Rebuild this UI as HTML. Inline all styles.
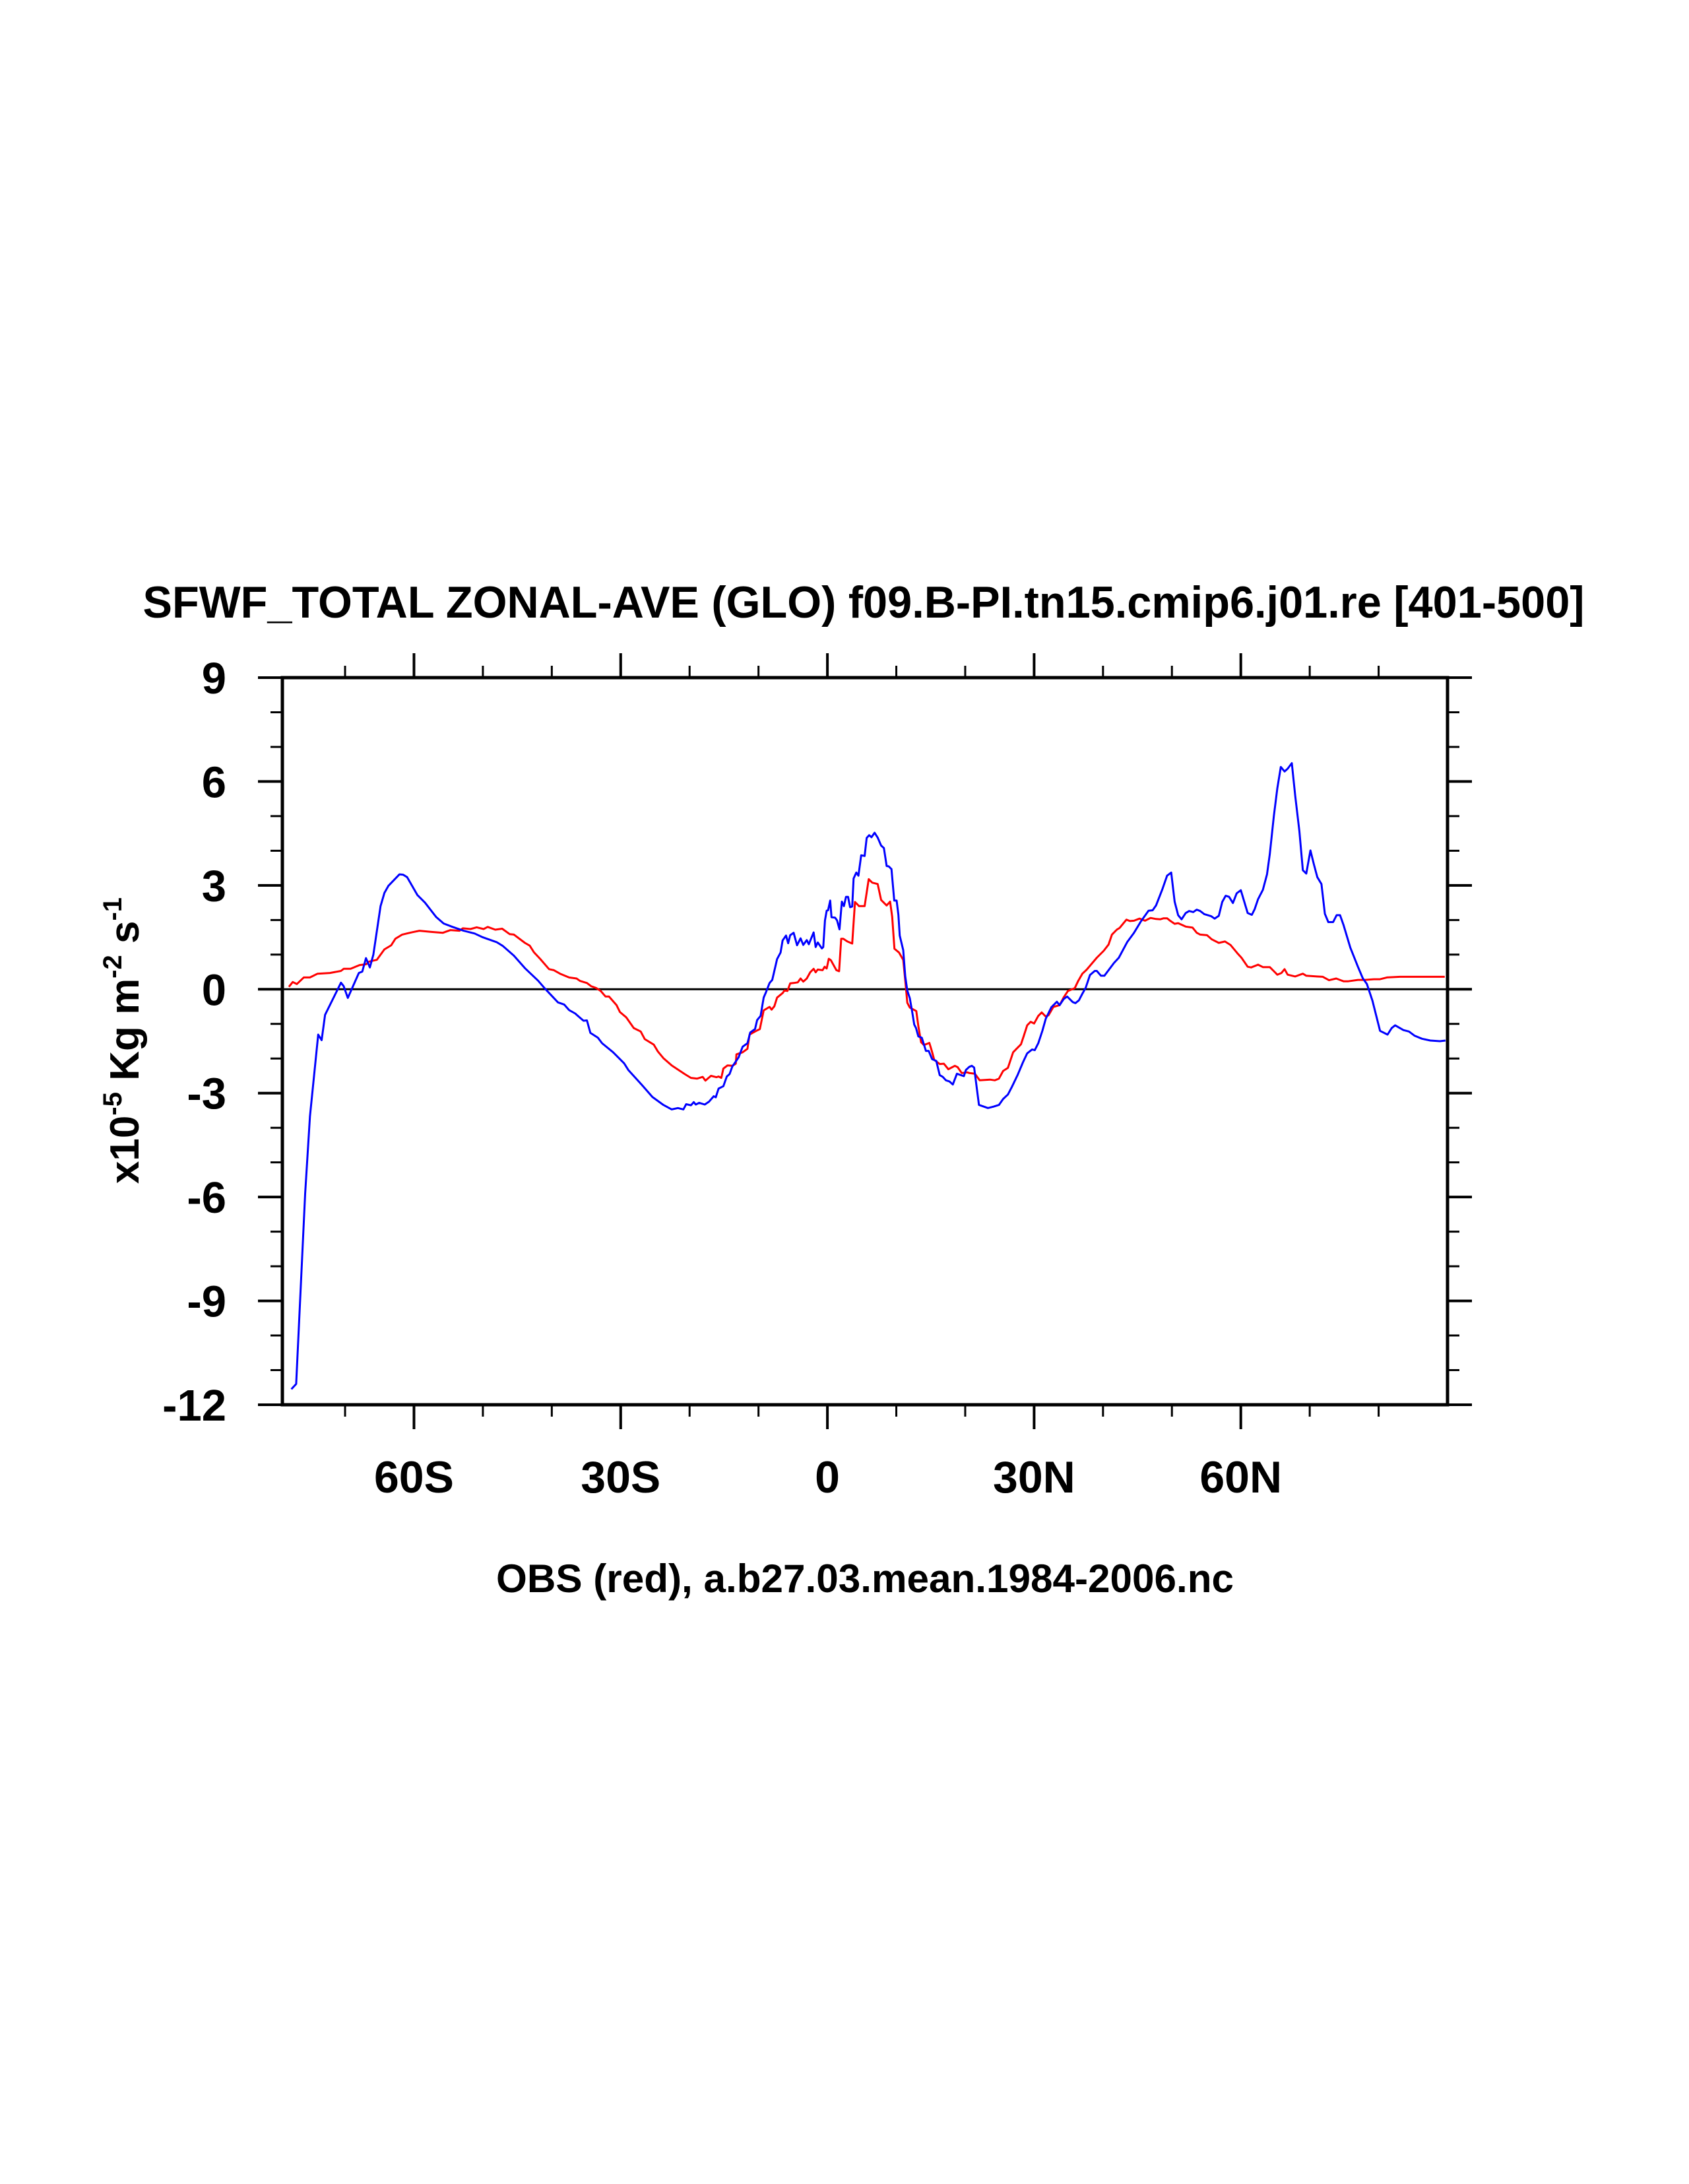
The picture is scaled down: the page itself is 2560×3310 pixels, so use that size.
<!DOCTYPE html>
<html><head><meta charset="utf-8"><title>SFWF_TOTAL zonal average</title>
<style>html,body{margin:0;padding:0;background:#fff}svg{display:block}text{font-family:"Liberation Sans",Arial,sans-serif;font-weight:bold;fill:#000}</style>
</head><body>
<svg id="chart" width="2560" height="3310" viewBox="0 0 2560 3310" xmlns="http://www.w3.org/2000/svg">
<rect x="0" y="0" width="2560" height="3310" fill="#fff"/>
<text x="1309" y="936" font-size="68" text-anchor="middle" textLength="2185" lengthAdjust="spacingAndGlyphs">SFWF_TOTAL ZONAL-AVE (GLO) f09.B-PI.tn15.cmip6.j01.re [401-500]</text>
<text x="1311" y="2413" font-size="60" text-anchor="middle" textLength="1118" lengthAdjust="spacingAndGlyphs">OBS (red), a.b27.03.mean.1984-2006.nc</text>
<text transform="translate(210,1577) rotate(-90)" font-size="62" text-anchor="middle">x10<tspan font-size="40" dy="-26">-5</tspan><tspan dy="26"> Kg m</tspan><tspan font-size="40" dy="-26">-2</tspan><tspan dy="26"> s</tspan><tspan font-size="40" dy="-26">-1</tspan></text>
<g id="plot"></g>
</svg>
<script>
const blueLat=[-77.8,-77.1,-75.8,-75.1,-73.9,-73.4,-72.9,-70.6,-70.2,-69.6,-68.0,-67.5,-66.97,-66.4,-65.9,-64.85,-64.3,-63.7,-62.1,-61.6,-61.0,-59.5,-58.4,-56.8,-55.7,-54.4,-52.8,-51.2,-50.0,-48.0,-47.1,-45.5,-43.9,-42.0,-41.0,-39.1,-38.2,-37.5,-36.6,-36.2,-35.4,-34.9,-34.4,-33.3,-32.7,-31.1,-29.5,-28.9,-26.9,-25.4,-23.8,-22.6,-21.7,-20.9,-20.5,-19.8,-19.4,-19.1,-18.6,-17.8,-17.2,-16.5,-16.2,-15.8,-15.1,-14.6,-14.2,-13.8,-12.9,-12.3,-11.6,-11.2,-10.5,-10.2,-9.7,-9.25,-8.9,-8.4,-8.0,-7.3,-6.8,-6.5,-6.0,-5.7,-5.4,-4.9,-4.4,-3.9,-3.5,-3.0,-2.7,-2.0,-1.7,-1.4,-0.8,-0.6,-0.35,-0.1,0.1,0.4,0.6,1.1,1.4,1.75,2.1,2.4,2.7,3.0,3.3,3.6,3.8,4.2,4.5,4.9,5.4,5.7,6.06,6.4,6.85,7.3,7.8,8.2,8.6,8.9,9.3,9.7,10.05,10.3,10.5,11.0,11.3,11.6,11.96,12.3,12.6,12.86,13.2,13.7,14.3,14.7,15.2,15.8,16.3,16.75,17.2,17.7,18.2,18.8,19.8,20.1,20.6,20.96,21.3,22.0,23.3,24.1,24.9,25.5,26.2,26.8,27.6,28.4,29.0,29.7,30.1,30.6,31.2,31.7,32.5,33.3,33.7,34.3,34.8,35.6,36.0,36.5,37.0,37.5,38.1,38.8,39.1,39.7,40.2,41.6,42.3,43.5,44.5,45.5,46.6,47.2,47.7,48.6,49.3,49.9,50.4,50.9,51.4,52.0,52.5,53.1,53.6,54.1,54.7,55.7,56.2,56.8,57.3,57.8,58.3,58.85,59.4,60.0,61.0,61.6,62.0,62.5,63.2,63.8,64.2,64.8,65.3,65.8,66.35,66.8,67.4,67.9,68.5,69.0,69.5,70.1,70.6,71.1,71.7,72.2,72.7,73.4,73.9,74.4,74.9,75.9,77.0,77.7,78.3,79.1,80.2,81.3,81.9,82.4,83.6,84.4,85.2,86.3,87.5,88.9,89.7];
const blueVal=[-11.55,-11.4,-5.91,-3.67,-1.31,-1.47,-0.74,0.19,0.09,-0.25,0.47,0.51,0.9,0.63,1.0,2.4,2.78,2.99,3.32,3.31,3.24,2.72,2.5,2.09,1.9,1.8,1.69,1.61,1.5,1.36,1.25,0.97,0.61,0.25,0.02,-0.38,-0.44,-0.6,-0.7,-0.77,-0.91,-0.9,-1.26,-1.4,-1.56,-1.82,-2.14,-2.33,-2.77,-3.11,-3.34,-3.47,-3.43,-3.47,-3.32,-3.35,-3.26,-3.33,-3.28,-3.33,-3.25,-3.09,-3.12,-2.87,-2.8,-2.52,-2.45,-2.23,-1.97,-1.66,-1.56,-1.25,-1.15,-0.89,-0.77,-0.24,-0.08,0.18,0.27,0.87,1.06,1.41,1.55,1.33,1.56,1.63,1.27,1.47,1.28,1.42,1.3,1.64,1.22,1.35,1.18,1.22,1.99,2.27,2.28,2.56,2.08,2.07,1.99,1.73,2.53,2.4,2.67,2.67,2.37,2.39,3.2,3.37,3.28,3.87,3.85,4.37,4.45,4.39,4.52,4.38,4.15,4.08,3.56,3.55,3.47,2.56,2.56,2.15,1.55,1.13,0.37,-0.04,-0.26,-0.64,-1.02,-1.12,-1.36,-1.4,-1.78,-1.78,-2.02,-2.07,-2.48,-2.53,-2.63,-2.66,-2.75,-2.44,-2.51,-2.33,-2.24,-2.21,-2.26,-3.34,-3.43,-3.39,-3.34,-3.17,-3.04,-2.81,-2.48,-2.1,-1.85,-1.74,-1.76,-1.56,-1.2,-0.85,-0.52,-0.36,-0.46,-0.28,-0.21,-0.37,-0.4,-0.32,-0.13,0.05,0.41,0.53,0.53,0.39,0.39,0.76,0.91,1.36,1.63,1.96,2.27,2.28,2.42,2.88,3.28,3.37,2.53,2.14,2.02,2.2,2.26,2.23,2.3,2.26,2.17,2.11,2.04,2.12,2.52,2.7,2.67,2.49,2.77,2.86,2.2,2.15,2.31,2.6,2.87,3.32,3.9,5.01,5.8,6.42,6.29,6.37,6.53,5.58,4.56,3.44,3.34,4.01,3.61,3.24,3.04,2.18,1.94,1.94,2.14,2.14,1.86,1.2,0.65,0.32,0.15,-0.33,-1.2,-1.31,-1.12,-1.04,-1.18,-1.22,-1.34,-1.43,-1.48,-1.5,-1.48];
const redLat=[-78.15,-77.6,-77.0,-76.0,-75.1,-74.0,-72.2,-70.6,-70.2,-69.2,-67.9,-66.97,-66.5,-65.4,-64.3,-63.3,-62.7,-61.7,-60.4,-59.2,-57.6,-55.8,-54.7,-53.4,-52.9,-51.8,-50.9,-49.9,-49.3,-48.2,-47.2,-46.1,-45.5,-43.9,-43.2,-42.6,-41.7,-40.4,-39.7,-38.8,-37.5,-36.4,-35.9,-34.9,-34.3,-33.5,-32.9,-32.2,-31.7,-30.6,-30.1,-29.2,-28.1,-27.1,-26.5,-25.2,-24.6,-23.8,-22.6,-20.7,-19.8,-18.9,-18.1,-17.7,-16.9,-16.1,-15.8,-15.4,-15.1,-14.5,-13.8,-13.3,-13.2,-12.3,-11.6,-11.3,-10.5,-9.8,-9.25,-8.4,-8.1,-7.7,-7.3,-6.5,-6.2,-5.8,-5.4,-4.9,-4.3,-3.9,-3.5,-3.0,-2.5,-2.0,-1.7,-1.4,-0.7,-0.4,-0.1,0.2,0.5,1.3,1.7,2.0,2.3,2.9,3.6,4.0,4.6,5.4,6.0,6.5,7.3,7.8,8.6,9.1,9.4,9.73,10.4,11.0,11.3,11.6,11.96,12.9,13.2,13.6,14.0,14.8,15.15,15.5,16.3,16.9,17.55,18.5,18.9,19.5,20.3,20.6,21.4,22.1,23.6,24.3,24.9,25.5,26.2,26.96,27.4,28.1,28.5,29.0,29.5,30.0,30.6,31.1,31.7,32.1,32.8,33.7,34.3,34.9,35.9,36.4,37.0,37.6,39.1,40.1,40.8,41.3,42.0,42.4,43.4,43.9,44.5,45.3,46.1,46.9,47.7,48.3,48.8,49.3,49.8,50.4,50.9,52.0,53.0,53.6,54.1,55.1,55.8,56.8,57.7,58.5,59.5,60.1,61.0,61.5,62.5,63.2,64.2,64.9,65.3,65.9,66.35,66.8,67.9,69.0,69.5,71.0,71.9,72.8,73.85,74.9,75.6,77.0,77.98,79.3,80.2,81.2,83.1,86.3,89.6];
const redVal=[0.07,0.21,0.15,0.34,0.34,0.45,0.47,0.53,0.59,0.59,0.7,0.72,0.8,0.85,1.15,1.27,1.46,1.58,1.64,1.69,1.66,1.63,1.71,1.69,1.76,1.74,1.79,1.74,1.8,1.72,1.75,1.59,1.58,1.34,1.26,1.07,0.88,0.58,0.55,0.45,0.34,0.31,0.24,0.18,0.09,0.03,-0.05,-0.21,-0.21,-0.46,-0.66,-0.81,-1.12,-1.22,-1.44,-1.6,-1.8,-1.99,-2.2,-2.45,-2.56,-2.58,-2.53,-2.64,-2.5,-2.54,-2.52,-2.56,-2.29,-2.2,-2.21,-2.15,-1.88,-1.82,-1.72,-1.31,-1.22,-1.15,-0.61,-0.51,-0.59,-0.49,-0.24,-0.11,-0.03,-0.05,0.17,0.18,0.2,0.31,0.22,0.31,0.49,0.59,0.49,0.57,0.55,0.65,0.6,0.88,0.84,0.55,0.52,1.46,1.46,1.38,1.32,2.52,2.4,2.4,3.18,3.08,3.04,2.58,2.42,2.53,2.09,1.17,1.06,0.85,0.25,-0.39,-0.53,-0.63,-1.06,-1.53,-1.61,-1.55,-1.78,-2.04,-2.16,-2.15,-2.31,-2.21,-2.25,-2.42,-2.4,-2.42,-2.44,-2.63,-2.61,-2.63,-2.58,-2.36,-2.27,-1.82,-1.73,-1.59,-1.35,-1.04,-0.94,-0.99,-0.77,-0.67,-0.79,-0.75,-0.51,-0.46,-0.23,-0.05,0.03,0.24,0.45,0.56,0.91,1.11,1.29,1.58,1.72,1.77,2.01,1.97,1.98,2.04,1.98,2.06,2.03,2.02,2.05,2.05,1.97,1.89,1.91,1.81,1.78,1.63,1.58,1.56,1.44,1.34,1.38,1.28,1.04,0.91,0.65,0.63,0.71,0.64,0.64,0.5,0.42,0.47,0.58,0.42,0.37,0.45,0.39,0.37,0.36,0.26,0.31,0.23,0.23,0.27,0.27,0.29,0.29,0.34,0.36,0.36,0.36];
const yTicks=[9,6,3,0,-3,-6,-9,-12];
const yTickLabels=["9","6","3","0","-3","-6","-9","-12"];
const xTicks=[-60,-30,0,30,60];
const xTickLabels=["60S","30S","0","30N","60N"];

const NS="http://www.w3.org/2000/svg";
const L=428,R=2194,T=1027,B=2129;
const xMin=-79.1,xMax=90,yMin=-12,yMax=9;
function xs(v){return L+(v-xMin)/(xMax-xMin)*(R-L);}
function ys(v){return T+(yMax-v)/(yMax-yMin)*(B-T);}
const g=document.getElementById('plot');
function mk(tag,attrs){const e=document.createElementNS(NS,tag);for(const k in attrs)e.setAttribute(k,attrs[k]);g.appendChild(e);return e;}

// zero reference line
const z=mk('line',{x1:L,x2:R,y1:ys(0),y2:ys(0),stroke:'#000','stroke-width':3});



function series(lat,val,color,name){
  let d='';
  for(let i=0;i<lat.length;i++){d+=(i?'L':'M')+xs(lat[i]).toFixed(1)+' '+ys(val[i]).toFixed(1);}
  const p=mk('path',{d:d,fill:'none',stroke:color,'stroke-width':3,'stroke-linejoin':'round'});
  
  
}
series(redLat,redVal,'#ff0000','obs-red-line');
series(blueLat,blueVal,'#0000ff','model-blue-line');

// frame
const fr=mk('rect',{x:L,y:T,width:R-L,height:B-T,fill:'none',stroke:'#000','stroke-width':5});



// y ticks
for(let v=yMin;v<=yMax;v++){
  const major=(v%3===0);const len=major?37:18;const y=ys(v);
  const a=mk('line',{x1:L-len,x2:L,y1:y,y2:y,stroke:'#000','stroke-width':major?4:3});
  
  
  const b=mk('line',{x1:R,x2:R+len,y1:y,y2:y,stroke:'#000','stroke-width':major?4:3});
  
  
}
yTicks.forEach((v,i)=>{
  const t=mk('text',{x:343,y:ys(v)+24,'font-size':67,'text-anchor':'end'});
  t.textContent=yTickLabels[i];
  
  
});
// x ticks
for(let v=-70;v<=80;v+=10){
  const major=(v%30===0);const len=major?37:18;const x=xs(v);
  const a=mk('line',{x1:x,x2:x,y1:B,y2:B+len,stroke:'#000','stroke-width':major?4:3});
  
  
  const b=mk('line',{x1:x,x2:x,y1:T-len,y2:T,stroke:'#000','stroke-width':major?4:3});
  
  
}
xTicks.forEach((v,i)=>{
  const t=mk('text',{x:xs(v),y:2262,'font-size':68,'text-anchor':'middle'});
  t.textContent=xTickLabels[i];
  
  
});
</script>
</body></html>
